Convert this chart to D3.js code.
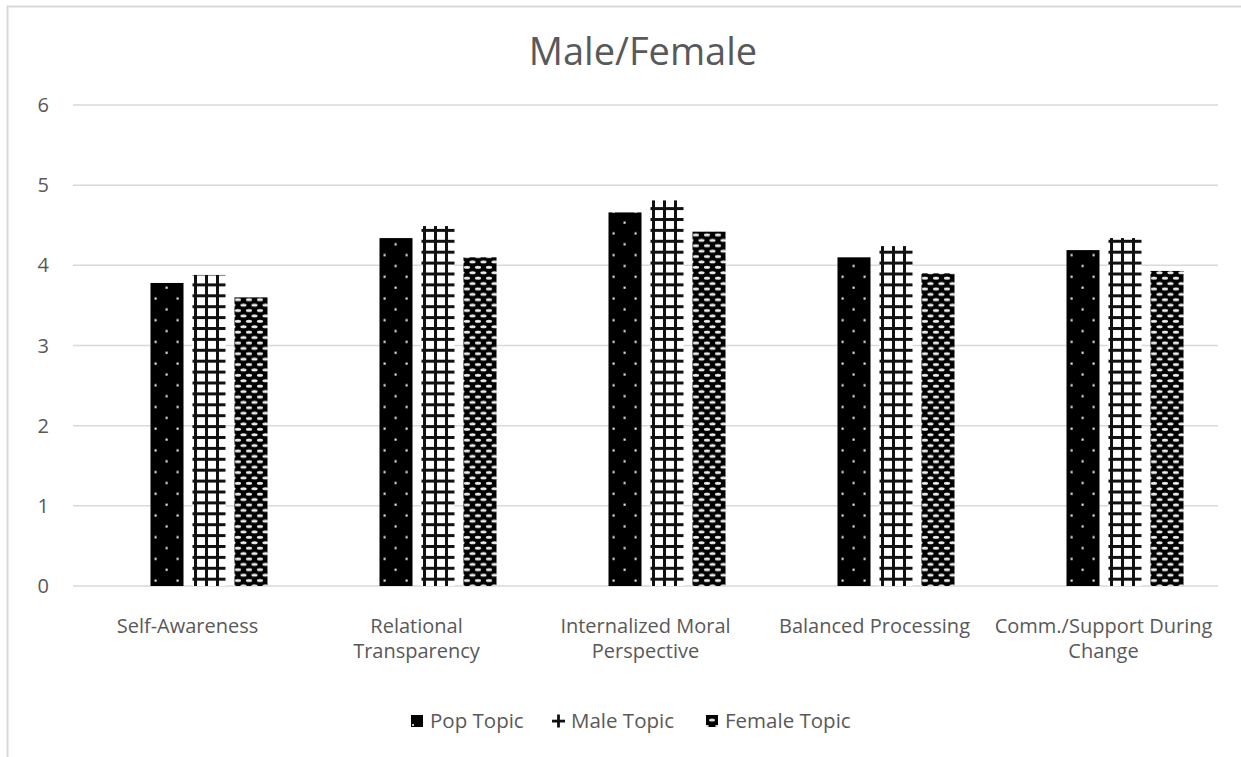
<!DOCTYPE html>
<html>
<head>
<meta charset="utf-8">
<script src="https://cdn.jsdelivr.net/npm/d3@7"></script>
<style>
  html, body { margin: 0; padding: 0; background: #fff; }
  svg text { font-family: "Open Sans", "Noto Sans", sans-serif; fill: #595959; }
</style>
</head>
<body>
<svg id="chart" width="1241" height="757"></svg>
<script>
// Mean scores per leadership dimension
const categories = [
  ["Self-Awareness"],
  ["Relational", "Transparency"],
  ["Internalized Moral", "Perspective"],
  ["Balanced Processing"],
  ["Comm./Support During", "Change"]
];
const seriesNames = ["Pop Topic", "Male Topic", "Female Topic"];
const popTopic    = [3.78, 4.34, 4.66, 4.10, 4.19];
const maleTopic   = [3.88, 4.49, 4.81, 4.24, 4.34];
const femaleTopic = [3.60, 4.10, 4.42, 3.90, 3.93];
const yTicks = [0, 1, 2, 3, 4, 5, 6];

const series = [popTopic, maleTopic, femaleTopic];
const svg = d3.select("#chart");
const defs = svg.append("defs");

// Fill patterns
const pPop = defs.append("pattern").attr("id", "pat-pop")
  .attr("patternUnits", "userSpaceOnUse").attr("width", 22).attr("height", 21.7);
pPop.append("rect").attr("width", 22).attr("height", 21.7).attr("fill", "#000");
pPop.append("rect").attr("x", 4.5).attr("y", 4.5).attr("width", 2.2).attr("height", 2.2).attr("fill", "#e0e0e0");
pPop.append("rect").attr("x", 15.5).attr("y", 15.3).attr("width", 2.2).attr("height", 2.2).attr("fill", "#e0e0e0");

const pMale = defs.append("pattern").attr("id", "pat-male")
  .attr("patternUnits", "userSpaceOnUse").attr("width", 11).attr("height", 10.9);
pMale.append("rect").attr("width", 11).attr("height", 10.9).attr("fill", "#fff");
pMale.append("rect").attr("x", 0).attr("y", 0).attr("width", 11).attr("height", 3).attr("fill", "#111");
pMale.append("rect").attr("x", 0).attr("y", 0).attr("width", 3).attr("height", 10.9).attr("fill", "#111");

const pFem = defs.append("pattern").attr("id", "pat-female")
  .attr("patternUnits", "userSpaceOnUse").attr("width", 11).attr("height", 10.8);
pFem.append("rect").attr("width", 11).attr("height", 10.8).attr("fill", "#000");
[[5.5, 2.7], [0, 8.1], [11, 8.1]].forEach(([cx, cy]) =>
  pFem.append("ellipse").attr("cx", cx).attr("cy", cy).attr("rx", 3.1).attr("ry", 1.5).attr("fill", "#ececec"));

const fills = ["url(#pat-pop)", "url(#pat-male)", "url(#pat-female)"];

// Chart frame
svg.append("rect").attr("x", 7.5).attr("y", 6.5).attr("width", 1300).attr("height", 800)
  .attr("fill", "none").attr("stroke", "#d9d9d9").attr("stroke-width", 2);

// Title
svg.append("text").attr("x", 643).attr("y", 65).attr("text-anchor", "middle")
  .style("font-size", "38px").text("Male/Female");

// Scales
const plotLeft = 73, plotRight = 1218;
const y = d3.scaleLinear().domain([0, 6]).range([586, 105]);
const x0 = d3.scaleBand().domain(d3.range(categories.length)).range([plotLeft, plotRight]);
// four slots per group; the first slot stays empty
const x1 = d3.scaleBand().domain([-1, 0, 1, 2]).range([35.5, 194.5]).paddingInner(0.214);

// Gridlines and y tick labels
svg.append("g").selectAll("line").data(yTicks).join("line")
  .attr("x1", plotLeft).attr("x2", plotRight)
  .attr("y1", d => y(d)).attr("y2", d => y(d))
  .attr("stroke", "#d9d9d9").attr("stroke-width", 1.5);
svg.append("g").selectAll("text").data(yTicks).join("text")
  .attr("x", 49).attr("y", d => y(d)).attr("dy", "0.35em")
  .attr("text-anchor", "end").style("font-size", "20px").text(d => d);

// Bars
const groups = svg.append("g").selectAll("g").data(categories.map((c, i) => i)).join("g")
  .attr("transform", i => `translate(${x0(i)},0)`);
groups.selectAll("rect").data(i => series.map((s, k) => ({ k, v: s[i] }))).join("rect")
  .attr("x", d => x1(d.k)).attr("width", x1.bandwidth())
  .attr("y", d => y(d.v)).attr("height", d => y(0) - y(d.v))
  .attr("fill", d => fills[d.k]);

// Category labels (one text per line)
const catGroups = svg.append("g").selectAll("g").data(categories).join("g")
  .attr("transform", (d, i) => `translate(${x0(i) + x0.bandwidth() / 2},633)`);
catGroups.selectAll("text").data(d => d).join("text")
  .attr("text-anchor", "middle").style("font-size", "20px")
  .attr("y", (d, j) => j * 25).text(d => d);

// Legend
const legendX = [411, 552, 706];
const lg = svg.append("g").selectAll("g").data(seriesNames).join("g")
  .attr("transform", (d, i) => `translate(${legendX[i]},721)`);
lg.append("text").attr("x", 19).attr("dy", "0.35em").style("font-size", "20.5px").text(d => d);
// swatches
const sw0 = lg.filter((d, i) => i === 0);
sw0.append("rect").attr("x", 0).attr("y", -6).attr("width", 12).attr("height", 12).attr("fill", "#000");
sw0.append("rect").attr("x", 1).attr("y", 3).attr("width", 2).attr("height", 2).attr("fill", "#ccc");
const sw1 = lg.filter((d, i) => i === 1);
sw1.append("rect").attr("x", 0).attr("y", -1.3).attr("width", 13).attr("height", 2.8).attr("fill", "#111");
sw1.append("rect").attr("x", 5.1).attr("y", -6.5).attr("width", 2.8).attr("height", 13).attr("fill", "#111");
const sw2 = lg.filter((d, i) => i === 2);
sw2.append("rect").attr("x", 0).attr("y", -6).attr("width", 12).attr("height", 12).attr("fill", "#000");
sw2.append("ellipse").attr("cx", 6).attr("cy", -1).attr("rx", 3).attr("ry", 1.6).attr("fill", "#ddd");
sw2.append("rect").attr("x", 0).attr("y", 4).attr("width", 2.5).attr("height", 2).attr("fill", "#ddd");
sw2.append("rect").attr("x", 9.5).attr("y", 4).attr("width", 2.5).attr("height", 2).attr("fill", "#ddd");
</script>
</body>
</html>
